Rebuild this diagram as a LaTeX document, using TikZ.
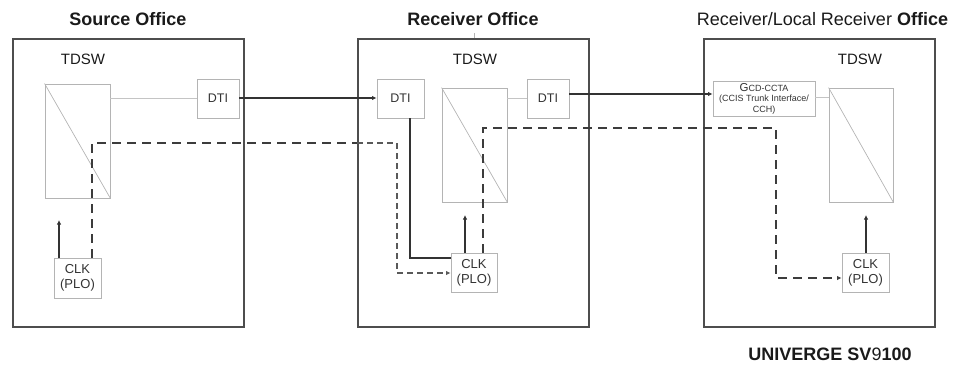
\documentclass[tikz,border=0pt]{standalone}
\usepackage{fontspec}
\setmainfont{Liberation Sans}
\usetikzlibrary{arrows.meta}

\definecolor{officeline}{HTML}{4D4D4D}
\definecolor{boxline}{HTML}{B4B4B4}
\definecolor{wire}{HTML}{C4C4C4}
\definecolor{sig}{HTML}{333333}
\definecolor{clkpath}{HTML}{3C3C3C}
\definecolor{txt}{HTML}{1A1A1A}

\begin{document}
\begin{tikzpicture}[x=1pt,y=-1pt,
  office/.style={draw=officeline, line width=1.3pt, inner sep=0pt,
    minimum width=231pt, minimum height=288pt},
  unit/.style={draw=boxline, line width=0.9pt, inner sep=0pt, text=sig, align=center},
  switchbox/.style={draw=boxline, line width=0.9pt, inner sep=0pt,
    minimum width=65pt, minimum height=114pt},
  title/.style={text=txt, font=\fontsize{18}{20}\selectfont\bfseries},
  tdsw/.style={text=txt, font=\fontsize{15}{17}\selectfont},
  dtifont/.style={font=\fontsize{12.5}{14}\selectfont},
  clkfont/.style={font=\fontsize{13}{15}\selectfont},
  link/.style={draw=wire, line width=0.9pt},
  trunk/.style={draw=sig, line width=2pt, -{Latex[length=4.5pt,width=4.5pt]}},
  feed/.style={draw=sig, line width=1.8pt},
  syncpath/.style={draw=clkpath, line width=1.8pt, dash pattern=on 9pt off 6pt},
  syncthin/.style={draw=clkpath!85, line width=1.2pt, dash pattern=on 6pt off 4pt},
  tip/.style={-{Latex[length=4.5pt,width=4.5pt]}}
]
\useasboundingbox (0,0) rectangle (965,377);

% ---- office frames and headings
\node[office] (srcoff) at (128.5,183) {};
\node[office] (recoff) at (473.5,183) {};
\node[office] (locoff) at (819.5,183) {};

\node[title] (t1) at (128,19) {Source Office};
\node[title] (t2) at (473,19) {Receiver Office};
\node[text=txt, font=\fontsize{18}{20}\selectfont] (t3) at (822.5,19)
  {Receiver/Local Receiver \textbf{Office}};
\node[title] (prod) at (830,354) {UNIVERGE SV{\mdseries 9}100};

\coordinate (tickA) at (474,33);
\draw[draw=boxline, line width=0.8pt] (tickA) -- (tickA |- recoff.north);

\node[tdsw] (td1) at (83,59) {TDSW};
\node[tdsw] (td2) at (475,59) {TDSW};
\node[tdsw] (td3) at (860,59) {TDSW};

% ---- time division switches
\node[switchbox] (sw1) at (77.5,141) {};
\node[switchbox] (sw2) at (474.5,145) {};
\node[switchbox, minimum width=64pt] (sw3) at (861,145) {};
\foreach \s in {sw1,sw2,sw3}
  \draw[draw=boxline, line width=0.7pt] (\s.north west) -- (\s.south east);

% ---- trunk interfaces
\node[unit, dtifont, minimum width=42pt, minimum height=39pt] (dti1) at (218,98.5) {DTI};
\node[unit, dtifont, minimum width=47pt, minimum height=39pt] (dti2) at (400.5,98.5) {DTI};
\node[unit, dtifont, minimum width=42pt, minimum height=39pt] (dti3) at (548,98.5) {DTI};
\node[unit, minimum width=102pt, minimum height=35pt,
  font=\fontsize{9}{10.5}\selectfont] (gcd) at (764,98.5)
  {{\fontsize{11.5}{10}\selectfont G}CD-CCTA\\(CCIS Trunk Interface/\\CCH)};

% ---- clock units
\node[unit, clkfont, minimum width=47pt, minimum height=40pt] (clk1) at (77.5,278) {CLK\\(PLO)};
\node[unit, clkfont, minimum width=46pt, minimum height=39pt] (clk2) at (474,272.5) {CLK\\(PLO)};
\node[unit, clkfont, minimum width=47pt, minimum height=39pt] (clk3) at (865.5,272.5) {CLK\\(PLO)};

% ---- internal highways
\draw[link] (dti1.west) -- (dti1.west -| sw1.east);
\draw[link] (dti3.west) -- (dti3.west -| sw2.east);
\draw[link] ([yshift=1.5pt]gcd.east) -- ([yshift=1.5pt]gcd.east -| sw3.west);

% ---- digital trunks between offices
\draw[trunk] ([yshift=0.5pt]dti1.east) -- ([yshift=0.5pt]dti2.west);
\draw[trunk] ([yshift=4.5pt]dti3.east) -- ([yshift=4.5pt]dti3.east -| gcd.west);

% ---- clock supply to the switches
\coordinate (up1) at (59,220);
\coordinate (up2) at (465,215);
\coordinate (up3) at (866,215);
\draw[feed, tip] (up1 |- clk1.north) -- (up1);
\draw[feed, tip] (up2 |- clk2.north) -- (up2);
\draw[feed, tip] (up3 |- clk3.north) -- (up3);

% ---- clock extracted from the incoming trunk
\coordinate (ex2) at (410,258);
\draw[feed] (ex2 |- dti2.south) -- (ex2) -- (ex2 -| clk2.west);

% ---- clock synchronisation paths
\coordinate (s1) at (92,143);
\coordinate (s1b) at (397,273);
\draw[syncpath] (s1 |- clk1.north) -- (s1) -- (s1 -| recoff.west);
\draw[syncthin, tip] (s1 -| recoff.west) -- (s1 -| s1b) -- (s1b) -- (s1b -| clk2.west);

\coordinate (s2) at (483,128);
\coordinate (s2b) at (776,278);
\draw[syncpath, tip] (s2 |- clk2.north) -- (s2) -- (s2 -| s2b) -- (s2b) -- (s2b -| clk3.west);

\end{tikzpicture}
\end{document}
